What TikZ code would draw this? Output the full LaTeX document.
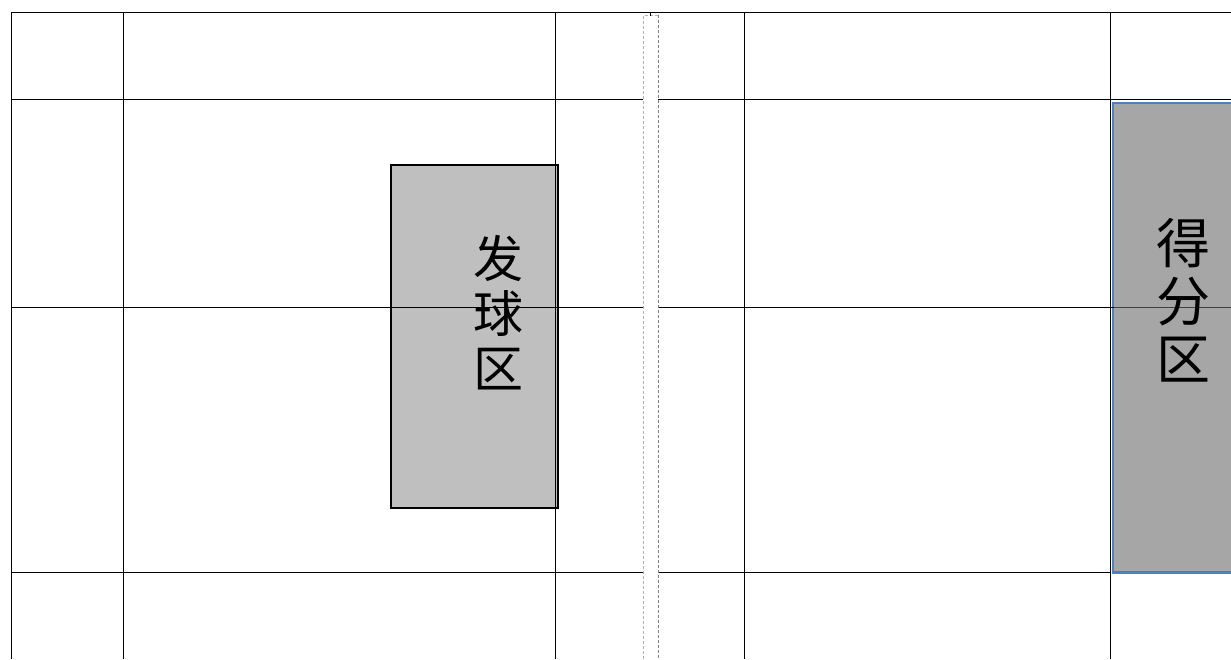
\documentclass[tikz,border=0pt]{standalone}
\usepackage{fontspec}
\newfontfamily\cjk{Noto Sans CJK SC}
\definecolor{servefill}{RGB}{191,191,191}
\definecolor{scorefill}{RGB}{166,166,166}
\definecolor{scoreedge}{RGB}{79,129,189}
\begin{document}
\begin{tikzpicture}[x=1pt,y=-1pt,
  gridline/.style={black,line width=1pt},
  zonetext/.style={font=\cjk\fontsize{50}{55}\selectfont,align=center,inner sep=0pt},
  bigzonetext/.style={font=\cjk\fontsize{54}{58}\selectfont,align=center,inner sep=0pt},
  stripedge/.style={line width=1pt,dash pattern=on 3pt off 2pt}]
\useasboundingbox (0,0) rectangle (1231,659);
\clip (0,0) rectangle (1231,659);
\fill[white] (0,0) rectangle (1231,659);
% zones
\draw[fill=servefill,draw=black,line width=1.5pt] (391,165) rectangle (558,508);
\draw[fill=scorefill,draw=scoreedge,line width=2pt] (1113,103) rectangle (1245,573);
% grid
\foreach \x in {11,123,555,744,1110} \draw[gridline] (\x,12) -- (\x,659);
\draw[gridline] (11,12) -- (1231,12);
\foreach \y in {99,307} {
  \draw[gridline] (11,\y) -- (643,\y);
  \draw[gridline] (658,\y) -- (1231,\y);
}
\draw[gridline,black!75] (1114,307) -- (1231,307);
\draw[gridline] (11,572) -- (643,572);
\draw[gridline] (658,572) -- (1111,572);
\draw[line width=1pt,black!55] (1114,571.5) -- (1231,571.5);
% middle strip
\fill[white] (644,14) rectangle (657.5,659);
\draw[stripedge,black!30] (643.5,659) -- (643.5,15) -- (658,15);
\draw[stripedge,black!50] (658,15) -- (658,659);
\draw[black,line width=1pt] (650.5,12) -- (650.5,15.5);
% labels
\node[zonetext] (serve) at (498,313) {发\\球\\区};
\node[bigzonetext] (score) at (1183,300) {得\\分\\区};
\end{tikzpicture}
\end{document}
